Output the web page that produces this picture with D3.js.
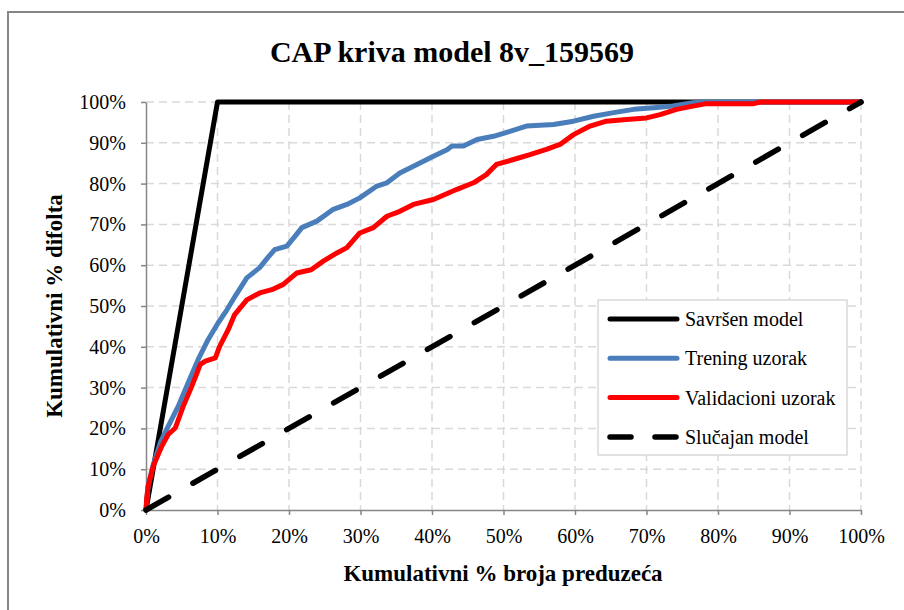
<!DOCTYPE html>
<html>
<head>
<meta charset="utf-8">
<script src="https://cdn.jsdelivr.net/npm/d3@7"></script>
<style>
  body { margin: 0; background: #fff; }
  text { font-family: "Liberation Serif", "Times New Roman", serif; fill: #000; }
  .axis path, .axis line { stroke: #868686; stroke-width: 1.5; }
  .axis text { font-size: 20px; }
</style>
</head>
<body>
<div id="cap-chart"></div>
<script>
// Chart data (percent values)
var xTicks = [0, 10, 20, 30, 40, 50, 60, 70, 80, 90, 100];
var yTicks = [0, 10, 20, 30, 40, 50, 60, 70, 80, 90, 100];

var seriesNames = ["Savršen model", "Trening uzorak", "Validacioni uzorak", "Slučajan model"];

var perfectX = [0, 10, 100];
var perfectY = [0, 100, 100];

var trainX = [0, 0.3, 1.0, 2.0, 3.1, 4.5, 5.9, 7.3, 8.7, 10.1, 11.3, 12.5, 14.1, 15.9, 17.0, 18.0,
              19.7, 20.8, 21.8, 23.9, 26.2, 28.1, 29.9, 32.3, 33.7, 35.5, 37.9, 40.2, 42.1, 42.8,
              44.4, 46.3, 48.6, 50.9, 53.2, 57.0, 59.8, 62.6, 65.4, 68.2, 71.0, 73.7, 76.5, 78.0, 100];
var trainY = [0, 6, 11, 16.5, 20.5, 25.4, 31.2, 36.9, 41.8, 45.9, 49, 52.5, 56.9, 59.4, 61.8, 63.8,
              64.7, 67, 69.2, 70.8, 73.7, 74.9, 76.5, 79.4, 80.2, 82.6, 84.7, 86.7, 88.3, 89.2,
              89.2, 90.8, 91.6, 92.8, 94.1, 94.5, 95.3, 96.5, 97.4, 98.2, 98.6, 99.0, 99.8, 100, 100];

var validX = [0, 0.1, 0.3, 1.0, 2.2, 3.1, 4.1, 5.2, 6.4, 7.6, 8.3, 9.7, 10.3, 11.5, 12.4, 14.1,
              15.9, 17.6, 19.2, 21.1, 23.1, 24.8, 26.7, 28.1, 29.9, 31.8, 33.7, 35.5, 37.4, 40.2,
              42.3, 43.5, 45.8, 47.6, 49.0, 51.4, 53.7, 56.0, 57.9, 59.8, 62.1, 64.4, 67.2, 70.0,
              71.9, 74.2, 76.5, 78.4, 85.0, 85.9, 100];
var validY = [0, 3, 5.8, 10.7, 15.6, 18.5, 20.1, 25.4, 30.3, 35.7, 36.5, 37.3, 40.1, 44.2, 47.9, 51.5,
              53.2, 54.0, 55.3, 58.1, 58.9, 61.0, 63.0, 64.3, 67.9, 69.2, 72.0, 73.2, 74.9, 76.1,
              77.7, 78.6, 80.2, 82.2, 84.7, 85.9, 87.1, 88.4, 89.6, 92.0, 94.1, 95.3, 95.7, 96.1,
              96.9, 98.2, 99.0, 99.6, 99.6, 100, 100];

var randomX = [0, 100];
var randomY = [0, 100];

// Setting size of page and plot
var W = 904, H = 610;
var plotLeft = 146, plotTop = 102,
    width = 715, height = 408;

var svg = d3.select('#cap-chart')
            .append('svg')
            .attr('width', W)
            .attr('height', H);

// Outer chart border (only left/top visible in the picture)
svg.append('rect')
   .attr('x', 8).attr('y', 12)
   .attr('width', W + 20).attr('height', H + 20)
   .attr('fill', 'none')
   .attr('stroke', '#868686')
   .attr('stroke-width', 2);

var g = svg.append('g')
           .attr('transform', 'translate(' + plotLeft + ',' + plotTop + ')');

var x = d3.scaleLinear().domain([0, 100]).range([0, width]);
var y = d3.scaleLinear().domain([0, 100]).range([height, 0]);

var pct = function(d) { return d + '%'; };

// Gridlines
g.append('g')
  .selectAll('line')
  .data(yTicks.slice(1))
  .enter().append('line')
  .attr('x1', 0).attr('x2', width)
  .attr('y1', function(d) { return y(d); })
  .attr('y2', function(d) { return y(d); })
  .attr('stroke', '#d9d9d9')
  .attr('stroke-width', 1.5)
  .attr('stroke-dasharray', '8,5');

g.append('g')
  .selectAll('line')
  .data(xTicks.slice(1))
  .enter().append('line')
  .attr('y1', 0).attr('y2', height)
  .attr('x1', function(d) { return x(d); })
  .attr('x2', function(d) { return x(d); })
  .attr('stroke', '#d9d9d9')
  .attr('stroke-width', 1.5)
  .attr('stroke-dasharray', '8,5');

// Axes
var x_axis = d3.axisBottom(x)
               .tickValues(xTicks)
               .tickFormat(pct)
               .tickSizeInner(5)
               .tickSizeOuter(0)
               .tickPadding(14);

var y_axis = d3.axisLeft(y)
               .tickValues(yTicks)
               .tickFormat(pct)
               .tickSizeInner(5)
               .tickSizeOuter(0)
               .tickPadding(15);

g.append('g')
  .attr('class', 'axis')
  .attr('transform', 'translate(0,' + height + ')')
  .call(x_axis);

g.append('g')
  .attr('class', 'axis')
  .call(y_axis);

g.selectAll('.axis .domain').attr('stroke', '#868686');

// Lines
var line = d3.line()
             .x(function(d) { return x(d[0]); })
             .y(function(d) { return y(d[1]); });

var zipXY = function(xs, ys) { return xs.map(function(v, i) { return [v, ys[i]]; }); };

var series = [
  {name: seriesNames[0], pts: zipXY(perfectX, perfectY), color: '#000000', dash: null, w: 5},
  {name: seriesNames[1], pts: zipXY(trainX, trainY), color: '#4a7ebb', dash: null, w: 5},
  {name: seriesNames[2], pts: zipXY(validX, validY), color: '#ff0000', dash: null, w: 5},
  {name: seriesNames[3], pts: zipXY(randomX, randomY), color: '#000000', dash: '26,28', w: 5.5}
];

series.forEach(function(s) {
  g.append('path')
    .datum(s.pts)
    .attr('d', line)
    .attr('fill', 'none')
    .attr('stroke', s.color)
    .attr('stroke-width', s.w)
    .attr('stroke-linejoin', 'round')
    .attr('stroke-linecap', 'round')
    .attr('stroke-dasharray', s.dash);
});

// Legend
var legend = svg.append('g').attr('transform', 'translate(598,300)');

legend.append('rect')
      .attr('width', 249).attr('height', 155)
      .attr('fill', '#fff')
      .attr('stroke', '#d9d9d9')
      .attr('stroke-width', 1.5);

var rows = legend.selectAll('g.row')
                 .data(series)
                 .enter().append('g')
                 .attr('transform', function(d, i) { return 'translate(0,' + (19 + i * 39.3) + ')'; });

rows.append('line')
    .attr('x1', 12).attr('x2', 79)
    .attr('stroke', function(d) { return d.color; })
    .attr('stroke-width', function(d) { return d.w; })
    .attr('stroke-linecap', 'round')
    .attr('stroke-dasharray', function(d) { return d.dash ? '21,24' : null; });

rows.append('text')
    .attr('x', 87).attr('y', 7)
    .style('font-size', '20px')
    .text(function(d) { return d.name; });

// Titles
svg.append('text')
   .attr('x', 452).attr('y', 62)
   .attr('text-anchor', 'middle')
   .style('font-size', '30px')
   .style('font-weight', 'bold')
   .text('CAP kriva model 8v_159569');

svg.append('text')
   .attr('x', 503).attr('y', 581)
   .attr('text-anchor', 'middle')
   .style('font-size', '23px')
   .style('font-weight', 'bold')
   .text('Kumulativni % broja preduzeća');

svg.append('text')
   .attr('transform', 'translate(62,306) rotate(-90)')
   .attr('text-anchor', 'middle')
   .style('font-size', '23px')
   .style('font-weight', 'bold')
   .text('Kumulativni % difolta');
</script>
</body>
</html>
